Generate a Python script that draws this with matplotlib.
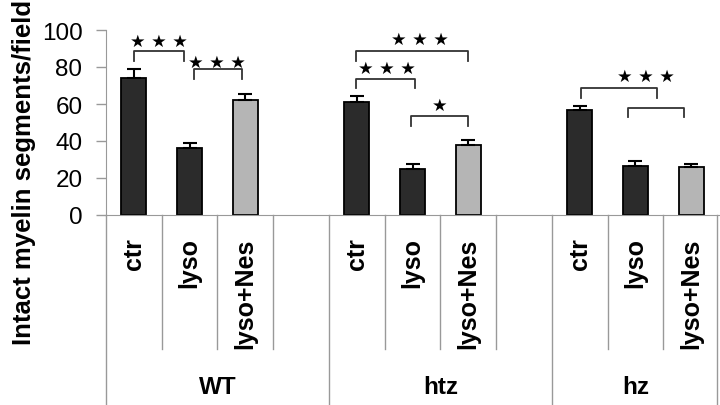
import numpy as np
import matplotlib
matplotlib.use("Agg")
import matplotlib.pyplot as plt

plt.rcParams["font.family"] = ["Liberation Sans", "DejaVu Sans"]

groups = ["WT", "htz", "hz"]
conditions = ["ctr", "lyso", "lyso+Nes"]
values = [74, 36, 62, 61, 25, 38, 56.5, 26.5, 25.8]
errors = [5, 2.7, 3.4, 3.5, 2.7, 2.5, 2.4, 2.5, 1.8]
positions = [0, 1, 2, 4, 5, 6, 8, 9, 10]

# brackets: x left, x right, y top, y legs bottom (left, right)
brackets = [
    (0.0, 0.9, 88.8, 83.4, 83.4),
    (1.08, 1.94, 79, 73.5, 73.5),
    (3.98, 5.99, 88.8, 83.4, 83.4),
    (3.98, 5.04, 73.5, 68.5, 68.5),
    (4.98, 5.99, 53.4, 48, 48),
    (8.03, 9.39, 68.5, 63, 63),
    (8.87, 9.88, 58, 52.8, 52.8),
]
stars = [
    (0.45, 94, "★ ★ ★"),
    (1.49, 83, "★ ★ ★"),
    (5.13, 95, "★ ★ ★"),
    (4.54, 79.5, "★ ★ ★"),
    (5.49, 59.5, "★"),
    (9.18, 75.3, "★ ★ ★"),
]

fig = plt.figure(figsize=(7.2, 4.06), dpi=100)
ax = fig.add_axes([106 / 720, (406 - 216) / 406, 613 / 720, 185 / 406])

colors = ["#2b2b2b", "#2b2b2b", "#b5b5b5"] * 3
ax.bar(positions, values, width=0.45, color=colors, edgecolor="black", linewidth=1.3, zorder=2)
ax.errorbar(positions, values, yerr=[np.zeros(len(errors)), errors], fmt="none",
            ecolor="black", elinewidth=1.5, capsize=5, capthick=1.5, zorder=3)

for x1, x2, ytop, yl, yr in brackets:
    ax.plot([x1, x1, x2, x2], [yl, ytop, ytop, yr], color="#333333", lw=1.3, clip_on=False)
for x, y, s in stars:
    ax.text(x, y, s, ha="center", va="center", fontsize=12.5, family="DejaVu Sans")

ax.set_xlim(-0.5, 10.5)
ax.set_ylim(0, 100)
ax.set_yticks([0, 20, 40, 60, 80, 100])
ax.tick_params(axis="y", labelsize=17.5, length=7, color="#999999", width=1, pad=10)
ax.set_ylabel("Intact myelin segments/field", fontsize=18.5, fontweight="bold")
ax.yaxis.set_label_coords(-70 / 613, 44 / 185)

labels = []
for g in range(3):
    labels += conditions
    if g < 2:
        labels.append("")
ax.set_xticks(range(11))
ax.set_xticklabels(labels, rotation=90, fontsize=18, fontweight="bold", va="top", ha="center")
ax.tick_params(axis="x", length=0, pad=16)

for s in ["top", "right"]:
    ax.spines[s].set_visible(False)
ax.spines["left"].set_color("#999999")
ax.spines["bottom"].set_color("#999999")

tr = ax.get_xaxis_transform()
for k in range(12):
    xb = k - 0.5
    if k in (0, 4, 8, 11):
        ybot = -190 / 185
    else:
        ybot = -134 / 185
    if k == 11:
        xb = 10.47
    ax.plot([xb, xb], [0, ybot], color="#999999", lw=1, transform=tr, clip_on=False)

group_centers = [1.5, 5.5, 9.0]
for xc, name in zip(group_centers, groups):
    ax.text(xc, -172 / 185, name, transform=tr, ha="center", va="center",
            fontsize=17.5, fontweight="bold")

fig.savefig("out.png", dpi=100)
